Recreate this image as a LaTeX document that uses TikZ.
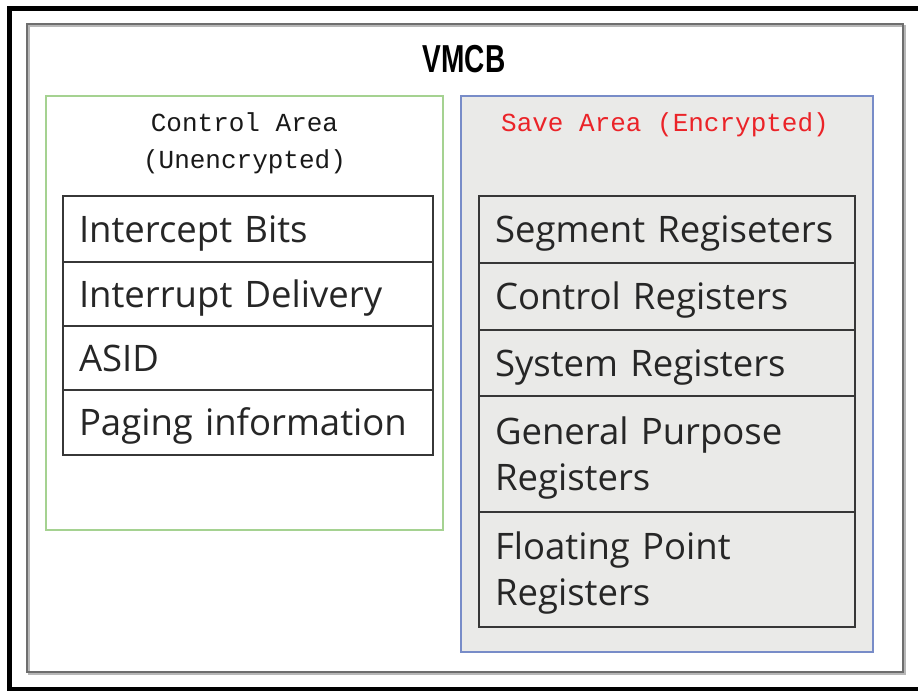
\documentclass[tikz,border=0pt]{standalone}
\usepackage{fontspec}
\setmainfont{Open Sans}
\newfontfamily\monofont{Liberation Mono}
\newfontfamily\titlefont{Liberation Sans}
\definecolor{greenline}{RGB}{165,210,145}
\definecolor{blueline}{RGB}{120,140,200}
\definecolor{speckle}{RGB}{234,234,232}
\definecolor{cellline}{RGB}{55,55,55}
\definecolor{savered}{RGB}{235,35,40}
\definecolor{framegray}{RGB}{110,110,110}
\begin{document}
\begin{tikzpicture}[x=1pt,y=-1pt,
  rowbox/.style={draw=cellline,line width=2pt,anchor=north west,outer sep=0pt,inner xsep=16pt,inner ysep=0pt,
    align=left,font=\fontsize{36.5}{46}\selectfont,text=black!85,text height=26pt,text depth=0pt},
  tworow/.style={text height=26pt,text depth=46pt},
  leftrow/.style={rowbox,minimum width=370pt,text width=338pt},
  rightrow/.style={rowbox,fill=speckle,minimum width=376pt,text width=344pt},
  header/.style={font=\monofont\fontsize{26}{37}\selectfont,align=center,text=black!90}]
\useasboundingbox (0,0) rectangle (918,691);
\fill[white] (0,0) rectangle (918,691);
\begin{scope}
\clip (0,0) rectangle (918,691);
\draw[line width=5pt] (9.5,8.5) -- (940,8.5);
\draw[line width=5pt] (9.5,6) -- (9.5,689.5);
\draw[line width=4pt] (7,689) -- (940,689);
\end{scope}
% inner frame
\draw[framegray!50,line width=1.5pt] (29,26) rectangle (905,674);
\draw[framegray,line width=2pt] (27,24) rectangle (903,672);
% title
\node[font=\titlefont\bfseries\fontsize{39}{40}\selectfont,xscale=0.72] (title) at (464,59) {VMCB};
% areas
\draw[greenline,line width=1.5pt] (46,96) rectangle (443,530);
\filldraw[fill=speckle,draw=blueline,line width=1.5pt] (461,96) rectangle (873,652);
\node[header] (ctrlhead) at (244.5,143) {Control Area\\(Unencrypted)};
\node[header,text=savered] (savehead) at (665,125) {Save Area (Encrypted)};
% left table
\node[leftrow,minimum height=66pt] (ib) at (63,196) {Intercept Bits};
\node[leftrow,minimum height=64pt] (id) at (ib.south west) {Interrupt Delivery};
\node[leftrow,minimum height=64pt] (asid) at (id.south west) {ASID};
\node[leftrow,minimum height=65pt] (pi) at (asid.south west) {Paging information};
% right table
\node[rightrow,minimum height=67pt] (seg) at (479,196) {Segment Regiseters};
\node[rightrow,minimum height=67pt] (cr) at (seg.south west) {Control Registers};
\node[rightrow,minimum height=66pt] (sr) at (cr.south west) {System Registers};
\node[rightrow,tworow,minimum height=116pt] (gpr) at (sr.south west) {General Purpose\\Registers};
\node[rightrow,tworow,minimum height=115pt] (fpr) at (gpr.south west) {Floating Point\\Registers};
\end{tikzpicture}
\end{document}
